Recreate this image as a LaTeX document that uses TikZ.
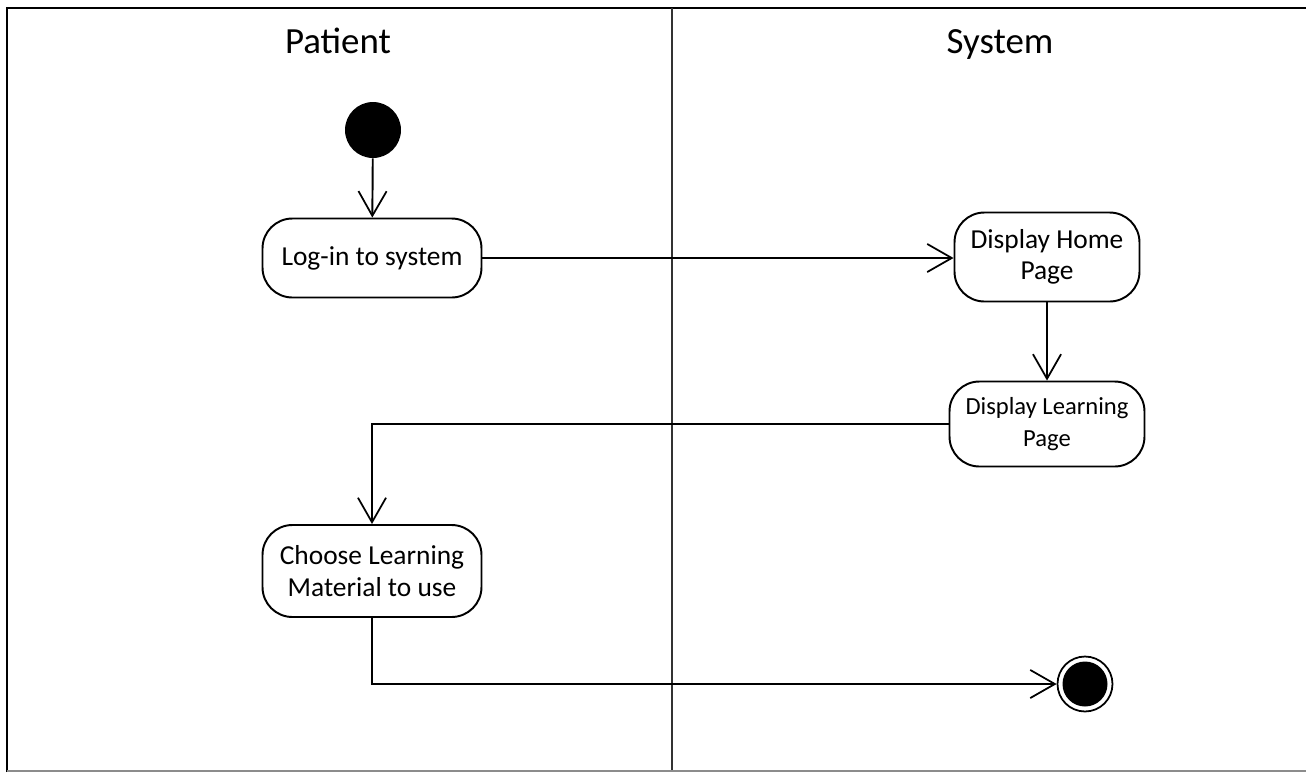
\documentclass[tikz,border=0pt]{standalone}
\usepackage{fontspec}
\setmainfont{Carlito}
\usetikzlibrary{arrows.meta}

\begin{document}
\begin{tikzpicture}[x=0.02cm, y=-0.02cm]

\tikzset{activity/.style = {shape=rectangle, rounded corners=17pt, draw, line width=1.1pt, align=center, inner sep=0pt, font=\fontsize{15.6}{18}\selectfont}}
\tikzset{lane/.style = {anchor=base, font=\fontsize{21}{24}\selectfont}}
\tikzset{edge/.style = {-{Straight Barb[length=14pt, width=16pt, line width=1pt]}, line width=1.1pt}}
\useasboundingbox (0,0) rectangle (1306,772);
%swimlanes
\draw[line width=1.6pt] (7,772) -- (7,8) -- (1306,8);
\draw[line width=1.6pt, black!80] (672,8) -- (672,772);
\draw[line width=1.2pt, black!45] (7,771) -- (1306,771);
\node[lane] (patient) at (338,53) {Patient};
\node[lane] (system) at (1000,53) {System};
%verticies
\node[circle, fill=black, minimum size=1.12cm, inner sep=0pt] (start) at (373,130) {};
\node[activity, minimum width=4.38cm, minimum height=1.58cm] (login) at (372,258) {Log-in to system};
\node[activity, minimum width=3.7cm, minimum height=1.78cm] (home) at (1047,257) {Display Home\\Page};
\node[activity, minimum width=3.9cm, minimum height=1.7cm, font=\fontsize{14}{18}\selectfont] (learn) at (1047,424) {Display Learning\\Page};
\node[activity, minimum width=4.38cm, minimum height=1.84cm] (choose) at (372,571) {Choose Learning\\Material to use};
\node[circle, draw, line width=1pt, minimum size=1.1cm, inner sep=0pt] (finish) at (1085,684) {};
\fill (finish) circle (0.45cm);
%edges
\draw[edge] (start) -- (login);
\draw[edge] (login.east) -- (login.east -| home.west);
\draw[edge] (home) -- (learn);
\draw[edge] (learn.west) -| (choose.north);
\draw[edge] (choose.south) |- (finish.west);

\end{tikzpicture}
\end{document}
